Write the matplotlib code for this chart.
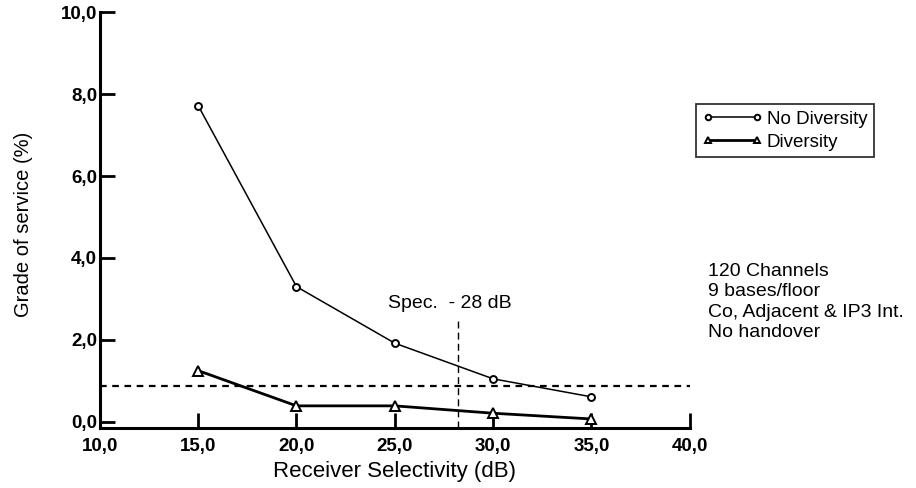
import matplotlib
matplotlib.use('Agg')
import matplotlib.pyplot as plt

plt.rcParams['font.family'] = ['Liberation Sans', 'DejaVu Sans']

# Messwerte
selektivitaet = [15, 20, 25, 30, 35]
gos_ohne_div = [7.72, 3.3, 1.92, 1.05, 0.61]
gos_mit_div = [1.25, 0.39, 0.39, 0.21, 0.07]

# Referenzlinien
grenze_gos = 0.87
spec_db = 28.2
spec_oben = 2.55

x_ticks = [10, 15, 20, 25, 30, 35, 40]
x_labels = ['10,0', '15,0', '20,0', '25,0', '30,0', '35,0', '40,0']
y_ticks = [0, 2, 4, 6, 8, 10]
y_labels = ['0,0', '2,0', '4,0', '6,0', '8,0', '10,0']

fig = plt.figure(figsize=(9.16, 4.88), dpi=100)
ax = fig.add_axes([0.109, 0.123, 0.644, 0.852])

# Kurven
ax.plot(selektivitaet, gos_ohne_div, color='black', linewidth=1.1, marker='o',
        markersize=5, markerfacecolor='white', markeredgewidth=1.4, label='No Diversity',
        zorder=3)
ax.plot(selektivitaet, gos_mit_div, color='black', linewidth=2.0, marker='^',
        markersize=7, markerfacecolor='white', markeredgewidth=1.4, label='Diversity',
        zorder=3)

# Grenzlinie und Spezifikation
ax.axhline(grenze_gos, color='black', linestyle=(0, (3, 2.5)), linewidth=1.6)
ax.plot([spec_db, spec_db], [-0.15, spec_oben], color='black', linestyle=(0, (5, 3)),
        linewidth=1.0)
ax.text(24.65, 2.9, 'Spec.  - 28 dB', fontsize=14, va='center', ha='left')

# Achsen
ax.set_xlim(10, 40)
ax.set_ylim(-0.15, 10)
ax.set_xticks(x_ticks)
ax.set_xticklabels(x_labels)
ax.set_yticks(y_ticks)
ax.set_yticklabels(y_labels)
for lab in ax.get_xticklabels() + ax.get_yticklabels():
    lab.set_fontweight('bold')
    lab.set_fontsize(13.5)
ax.tick_params(direction='in', length=11, width=2.0)
ax.tick_params(axis='x', pad=7)
ax.tick_params(axis='y', pad=2)
ax.spines['top'].set_visible(False)
ax.spines['right'].set_visible(False)
ax.spines['left'].set_linewidth(2.2)
ax.spines['bottom'].set_linewidth(2.2)
ax.set_xlabel('Receiver Selectivity (dB)', fontsize=16)
ax.set_ylabel('Grade of service (%)', fontsize=14.5)
ax.xaxis.set_label_coords(0.5, -0.08)
ax.yaxis.set_label_coords(-0.113, 0.49)

# Legende
leg = ax.legend(loc='upper left', bbox_to_anchor=(1.011, 0.779), numpoints=2,
                fontsize=13.5, frameon=True, fancybox=False, handlelength=3.2,
                handletextpad=0.2, borderpad=0.35, labelspacing=0.3,
                borderaxespad=0.0)
leg.get_frame().set_edgecolor('black')
leg.get_frame().set_linewidth(1.3)
for h in leg.legend_handles:
    h.set_markersize(4)

# Randbemerkung
fig.text(0.773, 0.462, '120 Channels\n9 bases/floor\nCo, Adjacent & IP3 Int.\nNo handover',
         fontsize=14, va='top', ha='left', linespacing=1.28)

fig.savefig('out.png', dpi=100)
